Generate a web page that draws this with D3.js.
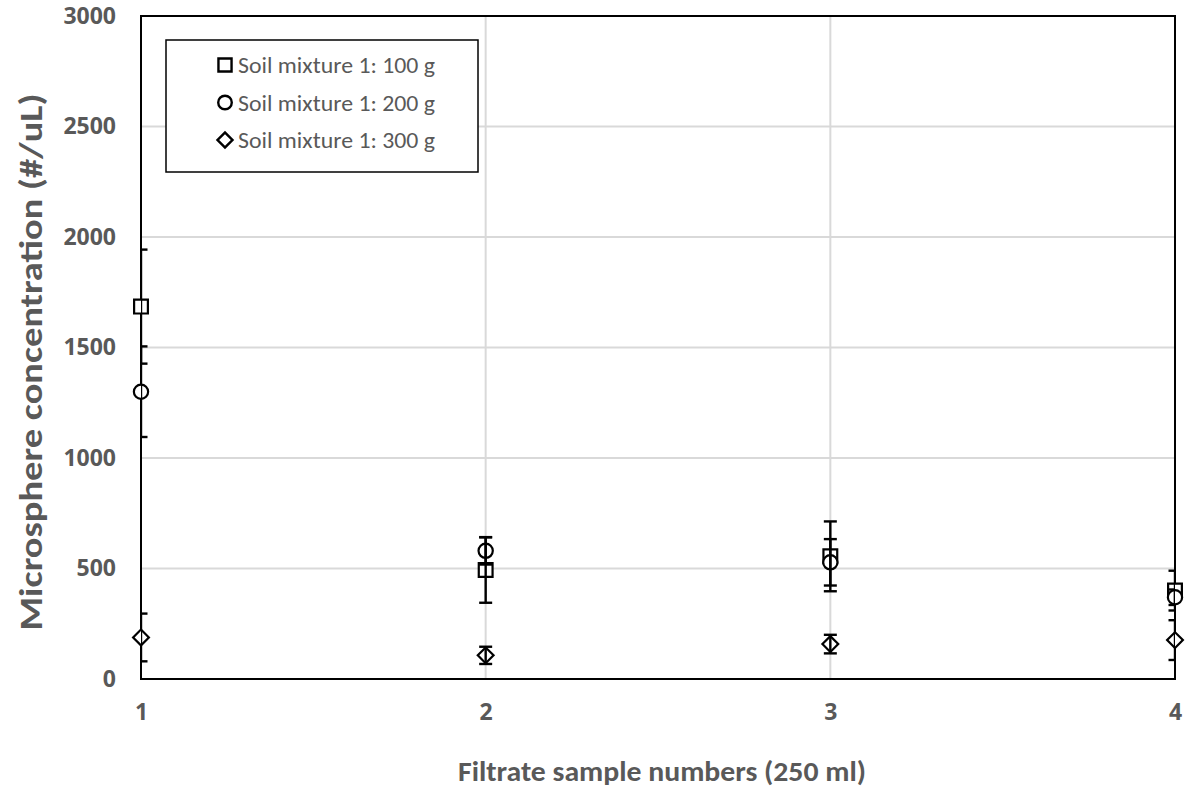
<!DOCTYPE html>
<html><head><meta charset="utf-8">
<script src="https://cdn.jsdelivr.net/npm/d3@7"></script>
<style>body{margin:0;background:#fff}svg{display:block}</style>
</head><body>
<svg id="c" width="1185" height="788"></svg>
<script>
const samples = [1, 2, 3, 4];
const seriesNames = ["Soil mixture 1: 100 g", "Soil mixture 1: 200 g", "Soil mixture 1: 300 g"];
const mix100 = [1685, 493, 555, 400];
const mix100Err = [258, 148, 158, 90];
const mix200 = [1300, 580, 528, 370];
const mix200Err = [205, 62, 105, 35];
const mix300 = [188, 107, 158, 176];
const mix300Err = [108, 39, 42, 90];
const yTicks = [0, 500, 1000, 1500, 2000, 2500, 3000];
const xTicks = [1, 2, 3, 4];
const symbols = ["square", "circle", "diamond"];

const svg = d3.select("#c");
const L = 141, R = 1175, T = 16, B = 679;
const x = d3.scaleLinear().domain([1, 4]).range([L, R]);
const y = d3.scaleLinear().domain([0, 3000]).range([B, T]);
const gray = "#595959", font = "Carlito, Lato, sans-serif", tickFont = "'Open Sans', sans-serif";

svg.append("g").selectAll("line").data(yTicks.filter(d => d > 0 && d < 3000)).join("line")
  .attr("x1", L).attr("x2", R).attr("y1", d => y(d)).attr("y2", d => y(d))
  .attr("stroke", "#d9d9d9").attr("stroke-width", 2);
svg.append("g").selectAll("line").data(xTicks.filter(d => d > 1 && d < 4)).join("line")
  .attr("y1", T).attr("y2", B).attr("x1", d => x(d)).attr("x2", d => x(d))
  .attr("stroke", "#d9d9d9").attr("stroke-width", 2);

const yAxis = svg.append("g").attr("transform", `translate(${L},0)`)
  .call(d3.axisLeft(y).tickValues(yTicks).tickSize(0).tickPadding(25).tickFormat(d3.format("d")));
const xAxis = svg.append("g").attr("transform", `translate(0,${B})`)
  .call(d3.axisBottom(x).tickValues(xTicks).tickSize(0).tickPadding(25).tickFormat(d3.format("d")));
[yAxis, xAxis].forEach(a => {
  a.select(".domain").remove();
  a.selectAll("text").attr("fill", gray).attr("font-family", tickFont)
    .attr("font-size", 23).attr("font-weight", "bold");
});

svg.append("rect").attr("x", L).attr("y", T).attr("width", R - L).attr("height", B - T)
  .attr("fill", "none").attr("stroke", "#000").attr("stroke-width", 2);

svg.append("text").attr("x", 662).attr("y", 781).attr("text-anchor", "middle")
  .attr("fill", gray).attr("font-family", font).attr("font-size", 29).attr("font-weight", "bold")
  .attr("textLength", 408).attr("lengthAdjust", "spacingAndGlyphs")
  .text("Filtrate sample numbers (250 ml)");
svg.append("text").attr("transform", `translate(42,362) rotate(-90)`).attr("text-anchor", "middle")
  .attr("fill", gray).attr("font-family", font).attr("font-size", 32).attr("font-weight", "bold")
  .attr("textLength", 537).attr("lengthAdjust", "spacingAndGlyphs")
  .text("Microsphere concentration (#/uL)");

svg.append("clipPath").attr("id", "clip").append("rect")
  .attr("x", L).attr("y", T).attr("width", R - L).attr("height", B - T);

function symPath(name, k) {
  if (name === "square") return d3.symbol().type(d3.symbolSquare).size(190 * k * k)();
  if (name === "circle") return d3.symbol().type(d3.symbolCircle).size(160 * k * k)();
  return d3.symbol().type(d3.symbolSquare).size(125 * k * k)();
}
function symRot(name) { return name === "diamond" ? " rotate(45)" : ""; }

const series = [
  {vals: mix100, err: mix100Err, sym: "square"},
  {vals: mix200, err: mix200Err, sym: "circle"},
  {vals: mix300, err: mix300Err, sym: "diamond"}
];

series.forEach(s => {
  svg.append("g").selectAll("path").data(samples).join("path")
    .attr("d", symPath(s.sym, 1))
    .attr("transform", (d, i) => `translate(${x(d)},${y(s.vals[i])})${symRot(s.sym)}`)
    .attr("fill", "#fff").attr("stroke", "#000").attr("stroke-width", 2.2);
});
series.forEach(s => {
  const g = svg.append("g").attr("clip-path", "url(#clip)").attr("stroke", "#000").attr("stroke-width", 2.4);
  samples.forEach((d, i) => {
    const cx = x(d), lo = y(s.vals[i] - s.err[i]), hi = y(s.vals[i] + s.err[i]);
    g.append("line").attr("x1", cx).attr("x2", cx).attr("y1", lo).attr("y2", hi);
    [lo, hi].forEach(yy => g.append("line").attr("x1", cx - 6.5).attr("x2", cx + 6.5).attr("y1", yy).attr("y2", yy));
  });
});

const lg = svg.append("g");
lg.append("rect").attr("x", 166).attr("y", 40).attr("width", 312).attr("height", 132)
  .attr("fill", "#fff").attr("stroke", "#000").attr("stroke-width", 1.5);
seriesNames.forEach((n, i) => {
  const yy = 65 + i * 37.5;
  lg.append("path").attr("d", symPath(symbols[i], 0.95))
    .attr("transform", `translate(225,${yy})${symRot(symbols[i])}`)
    .attr("fill", "#fff").attr("stroke", "#000").attr("stroke-width", 2.4);
  lg.append("text").attr("x", 238).attr("y", yy).attr("dy", "0.35em")
    .attr("fill", gray).attr("font-family", font).attr("font-size", 23)
    .attr("textLength", 197).attr("lengthAdjust", "spacingAndGlyphs").text(n);
});
</script>
</body></html>
